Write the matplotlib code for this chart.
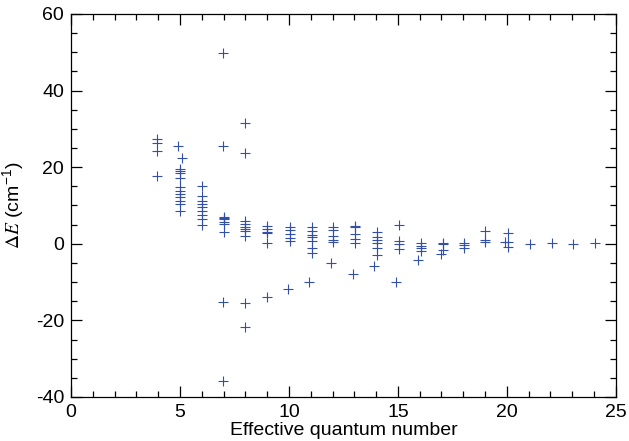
import matplotlib
matplotlib.use("Agg")
import matplotlib.pyplot as plt
from matplotlib.ticker import MultipleLocator

plt.rcParams['font.family'] = ['Liberation Sans', 'DejaVu Sans']
plt.rcParams['mathtext.fontset'] = 'stix'
plt.rcParams['axes.unicode_minus'] = False

# effective quantum number, Delta E (cm^-1)
n_eff = [
    3.95, 3.95, 3.95, 3.95,
    4.92, 5.09, 5.0, 5.0, 5.0, 5.0, 5.0, 5.0, 5.0, 5.0, 5.0, 5.0, 5.0,
    6.0, 6.0, 6.0, 6.0, 6.0, 6.0, 6.0, 6.0, 6.0,
    7.0, 7.0, 7.0, 7.0, 7.0, 7.0, 6.98, 6.98, 6.98, 6.98,
    8.0, 8.0, 8.0, 8.0, 8.0, 8.0, 8.0, 8.0, 8.0, 8.0,
    9.0, 9.0, 9.0, 9.0, 9.0, 8.98,
    10.05, 10.05, 10.05, 10.05, 10.05, 9.95,
    11.07, 11.07, 11.07, 11.07, 11.07, 11.07, 11.07, 10.93,
    12.03, 12.03, 12.03, 12.03, 12.03, 11.93,
    13.03, 13.03, 13.03, 13.03, 13.03, 12.95,
    14.05, 14.05, 14.05, 14.05, 14.05, 14.05, 13.9,
    15.05, 15.05, 15.05, 15.05, 14.9,
    16.04, 16.04, 16.04, 16.04, 15.93,
    17.08, 17.08, 17.08, 16.96,
    18.04, 18.04, 18.04,
    19.02, 19.02, 19.02,
    20.03, 20.03, 20.03, 19.9,
    21.06, 22.05, 23.04, 24.04,
]
delta_e = [
    27.3, 26.3, 24.3, 17.8,
    25.6, 22.4, 19.5, 19.0, 18.5, 17.3, 14.7, 13.8, 13.0, 12.1, 11.2, 10.3, 8.6,
    15.0, 12.4, 11.2, 10.4, 9.5, 8.6, 7.5, 6.5, 5.0,
    7.1, 6.4, 5.8, 5.1, 3.2, 6.8, 49.7, 25.6, -15.1, -35.8,
    6.0, 5.1, 4.4, 3.8, 3.4, 2.0, 31.5, 23.8, -15.5, -21.6,
    4.7, 3.8, 3.2, 2.7, 0.1, -13.8,
    4.4, 3.5, 2.5, 1.5, 0.7, -11.8,
    4.4, 3.4, 2.3, 1.8, 0.8, -1.2, -2.4, -9.9,
    4.5, 3.6, 2.1, 1.0, 0.5, -5.1,
    4.7, 4.3, 2.5, 1.2, 0.3, -7.9,
    3.0, 1.8, 1.0, 0.1, -1.0, -2.8, -5.7,
    5.0, 0.6, -0.1, -1.4, -10.1,
    0.3, -0.5, -1.2, -1.8, -4.3,
    0.3, -0.1, -1.6, -2.7,
    0.3, -0.2, -1.0,
    3.4, 1.1, 0.5,
    2.7, 0.5, -0.9, 0.5,
    -0.1, 0.1, 0.0, 0.3,
]

fig = plt.figure(figsize=(6.29, 4.41), dpi=100)
ax = fig.add_axes([0.113, 0.0998, 0.866, 0.8685])

ax.plot(n_eff, delta_e, linestyle='none', marker='+', markersize=7,
        markeredgewidth=0.8, color='#3350a8')

ax.set_xlim(0, 25)
ax.set_ylim(-40, 60)
ax.xaxis.set_major_locator(MultipleLocator(5))
ax.xaxis.set_minor_locator(MultipleLocator(1))
ax.yaxis.set_major_locator(MultipleLocator(20))
ax.yaxis.set_minor_locator(MultipleLocator(5))
ax.tick_params(which='both', direction='in', top=True, right=True,
               width=0.9, labelsize=14, pad=5)
ax.tick_params(which='major', length=8)
ax.tick_params(which='minor', length=4.5)
for s in ax.spines.values():
    s.set_linewidth(0.9)

ax.set_xlabel('Effective quantum number', fontsize=14, labelpad=1)
ax.set_ylabel(r'$\Delta \mathit{E}$ (cm$^{\mathregular{-1}}$)', fontsize=14, labelpad=6)

fig.savefig('out.png', dpi=100)
